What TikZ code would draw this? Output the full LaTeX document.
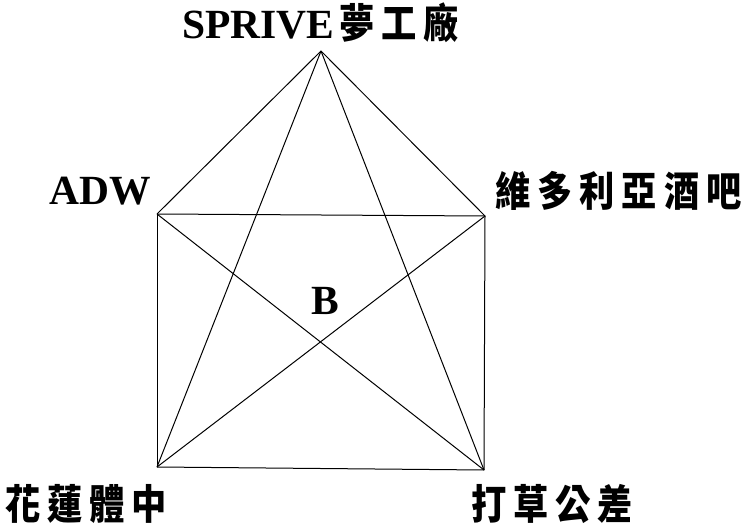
\documentclass[tikz,border=0pt]{standalone}
\usepackage{fontspec}
\setmainfont{Liberation Serif}
\newfontfamily\cjk[FakeStretch=0.86]{Noto Sans CJK TC}
\newcommand\cjkgap{\hspace{7pt}}
\newcommand\cjksz{\fontsize{41}{44}\selectfont}
\begin{document}
\begin{tikzpicture}[x=1pt,y=-1pt,
  edge/.style={draw=black,line width=1pt},
  lab/.style={inner sep=0pt,anchor=base west,font=\fontsize{41.5}{45}\selectfont\bfseries}]
\useasboundingbox (0,0) rectangle (755,526);
\coordinate (apex) at (321,51);
\coordinate (tl) at (157,214);
\coordinate (tr) at (485,216);
\coordinate (bl) at (157,467);
\coordinate (br) at (484,470);
\draw[edge] (apex) -- (tl);
\draw[edge] (apex) -- (tr);
\draw[edge] (apex) -- (bl);
\draw[edge] (apex) -- (br);
\draw[edge] (tl) -- (tr);
\draw[edge] (tl) -- (bl);
\draw[edge] (tr) -- (br);
\draw[edge] (bl) -- (br);
\draw[edge] (tl) -- (br);
\draw[edge] (tr) -- (bl);
\node[lab] (top) at (182,39) {SPRIVE{\cjk\cjksz\hspace{5pt}夢\cjkgap 工\cjkgap 廠}};
\node[lab] (adw) at (49,205) {ADW};
\node[lab] (vic) at (495,207) {\cjk\cjksz 維\cjkgap 多\cjkgap 利\cjkgap 亞\cjkgap 酒\cjkgap 吧};
\node[lab] (b) at (311,315) {B};
\node[lab] (hua) at (5,519) {\cjk\cjksz 花\cjkgap 蓮\cjkgap 體\cjkgap 中};
\node[lab] (da) at (471,519) {\cjk\cjksz 打\cjkgap 草\cjkgap 公\cjkgap 差};
\end{tikzpicture}
\end{document}
